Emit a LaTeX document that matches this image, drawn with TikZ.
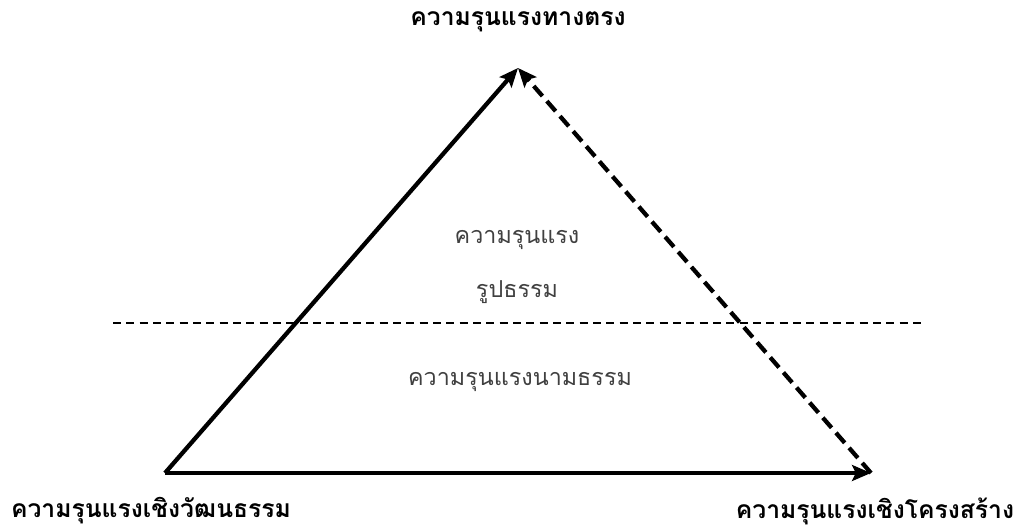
\documentclass[tikz,border=0pt]{standalone}
\usepackage{fontspec}
\newfontfamily\thaifont[Script=Thai]{Loma}
\usetikzlibrary{arrows.meta, positioning}

\begin{document}
\begin{tikzpicture}[x=0.75pt, y=-0.75pt, line cap=butt, line join=miter,
    edge/.style={line width=3.2pt},
    corner/.style={font=\thaifont\bfseries\fontsize{18.5}{22}\selectfont},
    inner/.style={font=\thaifont\fontsize{17.5}{21}\selectfont, text=black!75},
    >={Stealth[length=5mm, width=4.2mm, inset=1mm]}]
  \useasboundingbox (0,0) rectangle (1015,532);
  % --- corners of the triangle ---------------------------------------
  \coordinate (cul) at (165,473);
  \coordinate (dir) at (518,68);
  \coordinate (str) at (871,473);
  \node[corner] (dirlbl) at (518,22) {ความรุนแรงทางตรง};
  \node[corner] (cullbl) at (151,511) {ความรุนแรงเชิงวัฒนธรรม};
  \node[corner] (strlbl) at (875,511) {ความรุนแรงเชิงโครงสร้าง};
  % --- sides ---------------------------------------------------------
  \draw[edge, ->] (cul) -- (dir);
  \draw[edge, ->, dash pattern=on 10pt off 5pt] (str) -- (dir);
  \draw[edge, ->] (cul) -- (str);
  % --- visible / invisible divide -------------------------------------
  \coordinate (divl) at (113,323);
  \coordinate (divr) at (922,323);
  \draw[line width=1pt, dash pattern=on 6pt off 4pt] (divl) -- (divr);
  \node[inner] (vis1) at (517,240) {ความรุนแรง};
  \node[inner] (vis2) at (517,292) {รูปธรรม};
  \node[inner] (invis) at (520,382) {ความรุนแรงนามธรรม};
\end{tikzpicture}
\end{document}
